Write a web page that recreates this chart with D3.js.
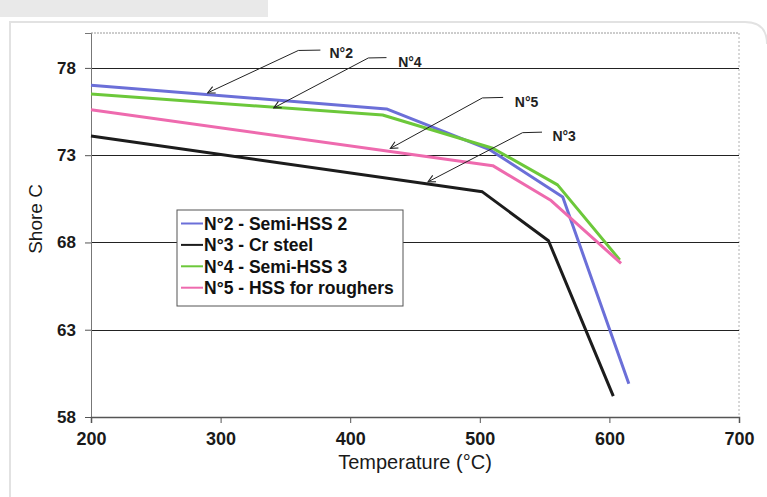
<!DOCTYPE html>
<html>
<head>
<meta charset="utf-8">
<script src="https://cdn.jsdelivr.net/npm/d3@7"></script>
<style>
  body { margin: 0; background: #fff; }
  svg { display: block; font-family: "Liberation Sans", Arial, sans-serif; }
</style>
</head>
<body>
<div id="app"></div>
<script>
const W = 767, H = 497
const PLOT = { left: 91, right: 739, top: 33, bottom: 417 }
const NARROW = '"Liberation Sans Narrow", "Arial Narrow", "Liberation Sans", Arial, sans-serif'

// series
const temps2 = [200, 428, 508, 564, 615]
const shore2 = [77.0, 75.65, 73.3, 70.6, 59.9]
const temps3 = [200, 502, 553, 603]
const shore3 = [74.1, 70.9, 68.1, 59.2]
const temps4 = [200, 425, 510, 560, 608]
const shore4 = [76.5, 75.3, 73.4, 71.3, 67.0]
const temps5 = [200, 510, 555, 609]
const shore5 = [75.6, 72.4, 70.4, 66.8]

const names = ['N°2 - Semi-HSS 2', 'N°3 - Cr steel', 'N°4 - Semi-HSS 3', 'N°5 - HSS for roughers']
const colors = ['#6b6fd8', '#1c1c1c', '#6cc83a', '#ee6aae']
const xTicks = [200, 300, 400, 500, 600, 700]
const yTicks = [58, 63, 68, 73, 78]

// callouts: label, arrow tip, elbow, end of the flat bit (data units)
const callLabels = ['N°2', 'N°4', 'N°5', 'N°3']
const callTips = [[290, 76.57], [341, 75.71], [431, 73.39], [460, 71.47]]
const callElbows = [[360, 79.0], [414, 78.57], [502, 76.28], [533, 74.29]]
const callEnds = [[377, 79.02], [428, 78.59], [518, 76.31], [548, 74.32]]
const callText = [[384, 78.85], [437, 78.34], [527, 76.05], [556, 74.1]]

const series = [
  { t: temps2, v: shore2 },
  { t: temps3, v: shore3 },
  { t: temps4, v: shore4 },
  { t: temps5, v: shore5 }
]

const x = d3.scaleLinear().domain([200, 700]).range([PLOT.left, PLOT.right])
const y = d3.scaleLinear().domain([58, 80]).range([PLOT.bottom, PLOT.top])

const svg = d3.select('#app').append('svg')
  .attr('width', W)
  .attr('height', H)

// scanned page bits
svg.append('rect').attr('x', 0).attr('y', 0).attr('width', 268).attr('height', 17).attr('fill', '#e9e9e9')
svg.append('path')
  .attr('d', 'M10,' + H + ' L10,22 L745,22 Q767,22 767,44')
  .attr('fill', 'none').attr('stroke', '#e2e2e2').attr('stroke-width', 2)

// plot frame (dotted top / right)
svg.append('line')
  .attr('x1', PLOT.left).attr('x2', PLOT.right).attr('y1', PLOT.top).attr('y2', PLOT.top)
  .attr('stroke', '#9a9a9a').attr('stroke-dasharray', '2,1')
svg.append('line')
  .attr('x1', PLOT.right).attr('x2', PLOT.right).attr('y1', PLOT.top).attr('y2', PLOT.bottom)
  .attr('stroke', '#b0b0b0').attr('stroke-dasharray', '2,2')

// gridlines
svg.append('g')
  .selectAll('line')
  .data(yTicks.filter(d => d > 58))
  .join('line')
  .attr('x1', PLOT.left).attr('x2', PLOT.right)
  .attr('y1', d => Math.round(y(d)) + 0.5).attr('y2', d => Math.round(y(d)) + 0.5)
  .attr('stroke', '#222')

// axes
const yAxis = d3.axisLeft(y).tickValues(yTicks).tickSize(6).tickPadding(9)
const gy = svg.append('g')
  .attr('transform', 'translate(' + PLOT.left + ',0)')
  .call(yAxis)
gy.select('.domain').attr('stroke', '#777')
gy.selectAll('.tick line').attr('stroke', '#555')
gy.selectAll('text')
  .attr('font-size', 17).attr('font-weight', 'bold').attr('fill', '#1a1a1a')
  .attr('font-family', NARROW)

const xAxis = d3.axisBottom(x).tickValues(xTicks).tickSize(6).tickPadding(9)
const gx = svg.append('g')
  .attr('transform', 'translate(0,' + PLOT.bottom + ')')
  .call(xAxis)
gx.select('.domain').attr('stroke', '#555').attr('stroke-width', 1.5)
gx.selectAll('.tick line').attr('stroke', '#555')
gx.selectAll('text')
  .attr('font-size', 18).attr('font-weight', 'bold').attr('fill', '#1a1a1a')
  .attr('font-family', NARROW)

svg.append('text')
  .attr('x', (PLOT.left + PLOT.right) / 2)
  .attr('y', 469)
  .attr('text-anchor', 'middle')
  .attr('font-size', 20)
  .attr('font-family', NARROW)
  .attr('fill', '#1a1a1a')
  .text('Temperature (°C)')

svg.append('text')
  .attr('transform', 'translate(42,219) rotate(-90)')
  .attr('text-anchor', 'middle')
  .attr('font-size', 19)
  .attr('font-family', NARROW)
  .attr('fill', '#1a1a1a')
  .text('Shore C')

// curves
const line = d3.line().x(d => x(d[0])).y(d => y(d[1]))
svg.append('g')
  .selectAll('path')
  .data(series)
  .join('path')
  .attr('d', s => line(s.t.map((t, i) => [t, s.v[i]])))
  .attr('fill', 'none')
  .attr('stroke', (d, i) => colors[i])
  .attr('stroke-width', 3)
  .attr('stroke-linejoin', 'round')

// callouts
svg.append('defs').append('marker')
  .attr('id', 'arr')
  .attr('viewBox', '0 0 10 10')
  .attr('refX', 9).attr('refY', 5)
  .attr('markerWidth', 9).attr('markerHeight', 9)
  .attr('orient', 'auto-start-reverse')
  .attr('markerUnits', 'userSpaceOnUse')
  .append('path')
  .attr('d', 'M1,1 L9,5 L1,9')
  .attr('fill', 'none').attr('stroke', '#222').attr('stroke-width', 1.2)

const gc = svg.append('g')
callLabels.forEach((lab, i) => {
  const pts = [callEnds[i], callElbows[i], callTips[i]]
  gc.append('path')
    .attr('d', line(pts))
    .attr('fill', 'none')
    .attr('stroke', '#222')
    .attr('stroke-width', 1)
    .attr('marker-end', 'url(#arr)')
  gc.append('text')
    .attr('x', x(callText[i][0]))
    .attr('y', y(callText[i][1]))
    .attr('dy', '0.35em')
    .attr('font-size', 14)
    .attr('font-weight', 'bold')
    .attr('fill', '#222')
    .text(lab)
})

// legend
const lg = svg.append('g').attr('transform', 'translate(177,210)')
lg.append('rect')
  .attr('width', 226).attr('height', 96)
  .attr('fill', '#fff').attr('stroke', '#555')
const rows = lg.selectAll('g.row')
  .data(names)
  .join('g')
  .attr('class', 'row')
  .attr('transform', (d, i) => 'translate(0,' + (13.5 + i * 21.4) + ')')
rows.append('line')
  .attr('x1', 4).attr('x2', 26)
  .attr('stroke', (d, i) => colors[i]).attr('stroke-width', 2)
rows.append('text')
  .attr('x', 27).attr('dy', '0.36em')
  .attr('font-size', 17.5).attr('font-weight', 'bold').attr('fill', '#111')
  .text(d => d)
</script>
</body>
</html>
